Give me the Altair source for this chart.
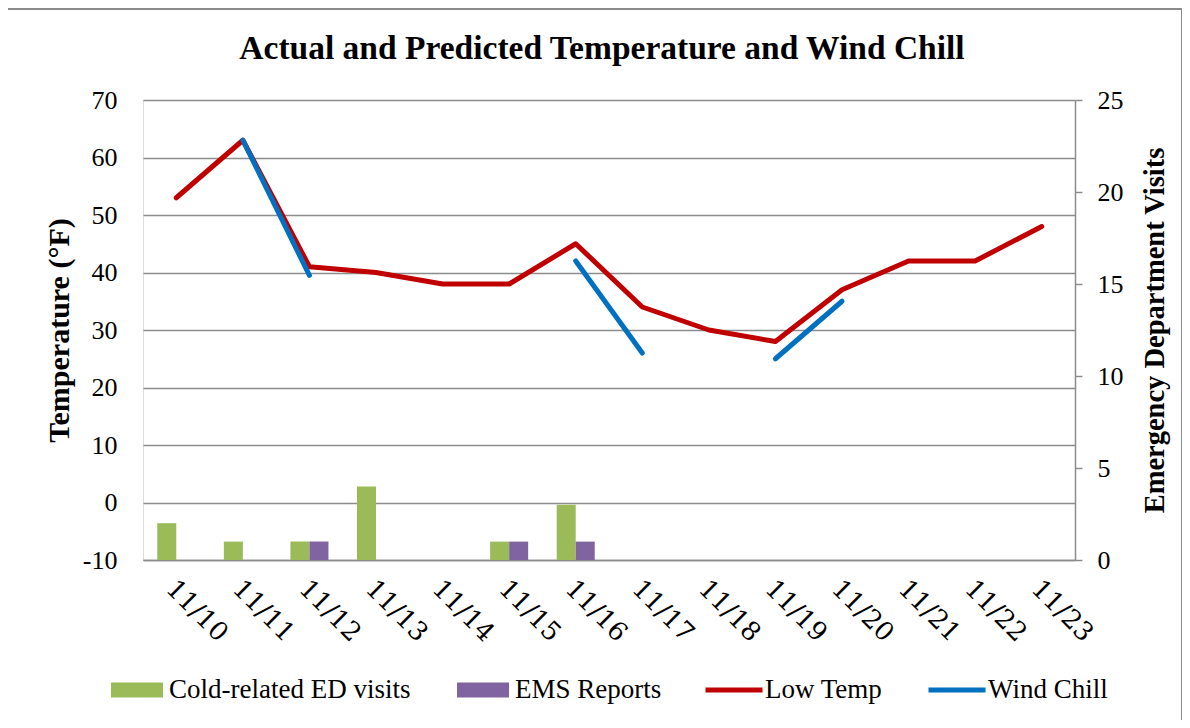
import altair as alt
import pandas as pd

# ---------------- data ----------------
dates = ["11/10", "11/11", "11/12", "11/13", "11/14", "11/15", "11/16",
         "11/17", "11/18", "11/19", "11/20", "11/21", "11/22", "11/23"]
cold_ed_visits = [2, 1, 1, 4, 0, 1, 3, 0, 0, 0, 0, 0, 0, 0]
ems_reports = [0, 0, 1, 0, 0, 1, 1, 0, 0, 0, 0, 0, 0, 0]
low_temp = [53, 63, 41, 40, 38, 38, 45, 34, 30, 28, 37, 42, 42, 48]
wind_chill = [None, 63, 39.5, None, None, None, 42, 26, None, 25, 35, None, None, None]

bar_series = ["Cold-related ED visits", "EMS Reports"]
bar_colors = ["#9BBB59", "#8064A2"]
line_series = ["Low Temp", "Wind Chill"]
line_colors = ["#C00000", "#0070C0"]
temp_ticks = [-10, 0, 10, 20, 30, 40, 50, 60, 70]
visit_ticks = [0, 5, 10, 15, 20, 25]

# ---------------- tables ----------------
bar_rows = []
for name, vals in ((bar_series[0], cold_ed_visits), (bar_series[1], ems_reports)):
    for d, v in zip(dates, vals):
        if v:
            bar_rows.append({"date": d, "series": name, "visits": v})
bars_df = pd.DataFrame(bar_rows)

low_df = pd.DataFrame({"date": dates, "series": line_series[0], "temp": low_temp})

wc_rows = []
seg, prev = 0, False
for d, v in zip(dates, wind_chill):
    if v is None:
        prev = False
        continue
    if not prev:
        seg += 1
    prev = True
    wc_rows.append({"date": d, "series": line_series[1], "temp": v, "seg": seg})
wc_df = pd.DataFrame(wc_rows)

SERIF = "Liberation Serif"
GRID = "#8C8C8C"

x_scale = alt.Scale(domain=dates, paddingInner=0, paddingOuter=0)
temp_scale = alt.Scale(domain=[-10, 70], nice=False)
line_scale = alt.Scale(domain=line_series, range=line_colors)

x_axis = alt.Axis(
    title=None, labelAngle=45, labelAlign="left", labelBaseline="middle",
    labelFont="DejaVu Serif", labelFontSize=26, labelColor="black",
    labelPadding=24, labelOffset=-6, ticks=False, domain=True,
    domainColor=GRID, domainWidth=1.5, grid=False)

temp_axis = alt.Axis(
    orient="left", values=temp_ticks, grid=True, gridColor=GRID, gridWidth=1.5,
    domain=False, ticks=False, labelPadding=26, labelFont=SERIF,
    labelFontSize=26, labelColor="black", labelExpr="'' + datum.value",
    title="Temperature (°F)", titleFont=SERIF, titleFontSize=30,
    titleFontWeight="bold", titleColor="black", titlePadding=8)

bar_legend = alt.Legend(
    title=None, orient="none", legendX=-32, legendY=564, direction="horizontal",
    columns=2, symbolType="M-1,-0.29H1V0.29H-1Z", symbolSize=2704,
    symbolStrokeWidth=0, labelFont=SERIF, labelFontSize=27, labelColor="black",
    labelOffset=6, columnPadding=46, labelLimit=500,
)
line_legend = alt.Legend(
    title=None, orient="none", legendX=560, legendY=559, direction="horizontal",
    columns=2, symbolType="stroke", symbolSize=3249, symbolStrokeWidth=5,
    labelFont=SERIF, labelFontSize=27, labelColor="black",
    labelOffset=0, columnPadding=35, labelLimit=500,
)

bars = alt.Chart(bars_df).mark_bar().encode(
    x=alt.X("date:N", scale=x_scale, axis=x_axis),
    xOffset=alt.XOffset("series:N", scale=alt.Scale(
        domain=bar_series, paddingInner=0, paddingOuter=0.75)),
    y=alt.Y("visits:Q", scale=alt.Scale(domain=[0, 25], nice=False), axis=alt.Axis(
        orient="right", values=visit_ticks, grid=False, domain=True,
        domainColor=GRID, domainWidth=1.5, ticks=True, tickColor=GRID,
        tickWidth=1.5, tickSize=7, labelPadding=15, labelFont=SERIF,
        labelFontSize=26, labelColor="black",
        title="Emergency Department Visits", titleFont=SERIF, titleFontSize=28.5,
        titleFontWeight="bold", titleColor="black", titleAngle=270,
        titleBaseline="top", titlePadding=17)),
    fill=alt.Fill("series:N", scale=alt.Scale(domain=bar_series, range=bar_colors),
                  legend=bar_legend),
)

low_line = alt.Chart(low_df).mark_line(strokeWidth=5, strokeCap="round", strokeJoin="round").encode(
    x=alt.X("date:N", scale=x_scale, axis=x_axis),
    y=alt.Y("temp:Q", scale=temp_scale, axis=temp_axis),
    stroke=alt.Stroke("series:N", scale=line_scale, legend=line_legend),
)

wc_line = alt.Chart(wc_df).mark_line(strokeWidth=5, strokeCap="round", strokeJoin="round").encode(
    x=alt.X("date:N", scale=x_scale, axis=x_axis),
    y=alt.Y("temp:Q", scale=temp_scale, axis=temp_axis),
    detail="seg:N",
    stroke=alt.Stroke("series:N", scale=line_scale, legend=line_legend),
)

lines = alt.layer(low_line, wc_line)

border = alt.Chart(pd.DataFrame({"b": [0]})).mark_rect(
    fill="transparent", stroke="#8C8C8C", strokeWidth=2
).encode(x=alt.value(-136), x2=alt.value(1039), y=alt.value(-91), y2=alt.value(640))

chart = alt.layer(border, bars, lines).resolve_scale(y="independent").properties(
    width=932, height=460,
    autosize=alt.AutoSizeParams(type="none"),
    padding={"left": 135, "top": 92, "right": 107, "bottom": 160},
    title=alt.TitleParams(
        "Actual and Predicted Temperature and Wind Chill", font=SERIF,
        fontSize=33.5, fontWeight="bold", color="black", anchor="middle",
        baseline="alphabetic", dx=-7, offset=-84),
).configure_view(strokeWidth=0).configure(background="white")

chart.save("out.html", embed_options={"renderer": "svg", "actions": False})
